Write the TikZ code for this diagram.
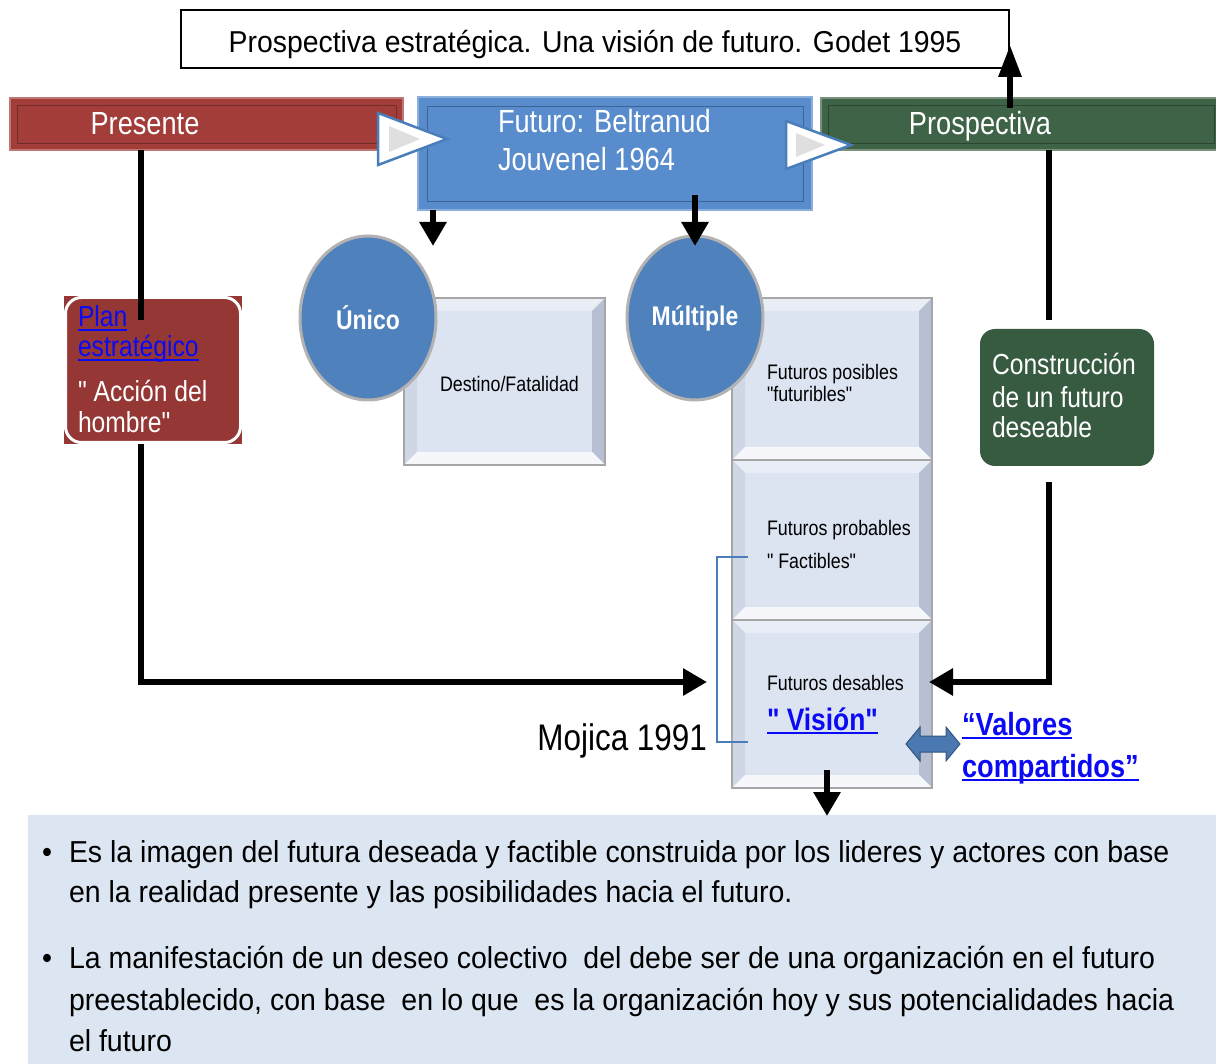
\documentclass[tikz,border=0pt]{standalone}
\usepackage{fontspec}
\setmainfont{Liberation Sans}[FakeStretch=0.85, Ligatures=TeXOff]
\newfontfamily\widerfont{Liberation Sans}[FakeStretch=0.94, Ligatures=TeXOff]
\usetikzlibrary{arrows.meta,shapes.geometric,calc}
\definecolor{redbar}{HTML}{A23D3A}
\definecolor{redplan}{HTML}{953735}
\definecolor{bluebox}{HTML}{588CCC}
\definecolor{blueedge}{HTML}{4A7EBB}
\definecolor{greenbar}{HTML}{3E6347}
\definecolor{greenbox}{HTML}{375B40}
\definecolor{circfill}{HTML}{4F81BD}
\definecolor{panel}{HTML}{DCE6F2}
\definecolor{face}{HTML}{DCE3F1}
\definecolor{bvtop}{HTML}{E9EDF6}
\definecolor{bvleft}{HTML}{CFD6E6}
\definecolor{bvright}{HTML}{B7BFD2}
\definecolor{bvbottom}{HTML}{F5F7FB}
\definecolor{linkblue}{HTML}{0A0AF5}
\definecolor{dblarrow}{HTML}{4A78B0}
\newcommand\dq{\symbol{34}}
\newcommand\ulk[2][0.07em]{\setbox0=\hbox{#2}\rlap{\rule[-0.14em]{\wd0}{#1}}\box0}
\newcommand\bevelfaces[1]{%
 \fill[face] (#1.north west) rectangle (#1.south east);
 \fill[bvtop] (#1.north west) -- (#1.north east) -- ($(#1.north east)+(-13,13)$) -- ($(#1.north west)+(13,13)$) -- cycle;
 \fill[bvleft] (#1.north west) -- ($(#1.north west)+(13,13)$) -- ($(#1.south west)+(13,-13)$) -- (#1.south west) -- cycle;
 \fill[bvright] (#1.north east) -- ($(#1.north east)+(-13,13)$) -- ($(#1.south east)+(-13,-13)$) -- (#1.south east) -- cycle;
 \fill[bvbottom] (#1.south west) -- ($(#1.south west)+(13,-13)$) -- ($(#1.south east)+(-13,-13)$) -- (#1.south east) -- cycle;
 \draw[gray!70, line width=1.5pt] (#1.north west) rectangle (#1.south east);}
\tikzset{
 plainnode/.style={inner sep=0pt, outer sep=0pt},
 bar/.style={plainnode, rectangle, line width=2pt},
 bartext/.style={plainnode, text=white, font=\fontsize{32}{36}\selectfont},
 boxnode/.style={plainnode, rectangle},
 smalltext/.style={plainnode, anchor=base west, font=\fontsize{21}{24}\selectfont},
 circ/.style={plainnode, ellipse, fill=circfill, draw=gray!60, line width=3pt, minimum width=136pt, minimum height=164pt, text=white, font=\bfseries\fontsize{27}{30}\selectfont},
 conn/.style={line width=6pt, draw=black},
 arr/.style={conn, -{Triangle[length=24pt,width=26pt]}},
 chevron/.style={fill=white, draw=blueedge, line width=2.5pt, line join=miter},
 bodytext/.style={plainnode, anchor=base west, font=\widerfont\fontsize{30.3}{36}\selectfont},
 whitetext/.style={plainnode, anchor=base west, text=white, font=\fontsize{29}{33}\selectfont},
}
\begin{document}
\begin{tikzpicture}[x=1pt,y=-1pt]
\useasboundingbox (0,0) rectangle (1216,1064);
% bottom panel
\fill[panel] (28,815) rectangle (1216,1064);
% title
\node[boxnode, draw=black, line width=1.3pt, minimum width=828pt, minimum height=58pt] (title) at (595,39) {};
\node[plainnode, anchor=base, font=\widerfont\fontsize{30.2}{36}\selectfont] (titleT) at (595,53) {Prospectiva estratégica. Una visión de futuro. Godet 1995};
% bars
\node[bar, fill=redbar, draw=redbar!70!white, minimum width=393pt, minimum height=52pt] (presente) at (206.5,124) {};
\node[bar, fill=bluebox, draw=bluebox!70!white, minimum width=394pt, minimum height=113pt] (futuro) at (615,153.5) {};
\node[bar, fill=greenbar, draw=greenbar!70!white, minimum width=400pt, minimum height=52pt] (prosp) at (1021,124) {};
\draw[redbar!70!black, line width=0.8pt] ($(presente.north west)+(7,7)$) rectangle ($(presente.south east)+(-7,-7)$);
\draw[blueedge!80!black, line width=0.8pt] ($(futuro.north west)+(9,9)$) rectangle ($(futuro.south east)+(-9,-9)$);
\draw[greenbar!70!black, line width=0.8pt] ($(prosp.north west)+(7,7)$) rectangle ($(prosp.south east)+(-7,-7)$);
\node[bartext, anchor=base] (presT) at (145,135) {Presente};
\node[bartext, anchor=base west] (futT1) at (498,133) {Futuro: Beltranud};
\node[bartext, anchor=base west] (futT2) at (498,171) {Jouvenel 1964};
\node[bartext, anchor=base] (prospT) at (980,135) {Prospectiva};
% chevrons
\draw[chevron] (378,113) -- (447,139) -- (378,165) -- cycle;
\fill[gray!25] (389,126) -- (420,139) -- (389,152) -- cycle;
\draw[chevron] (786,121) -- (851,145) -- (786,169) -- cycle;
\fill[gray!25] (796,133) -- (825,145) -- (796,157) -- cycle;
% up arrow to title
\coordinate (upS) at (1010,108);
\draw[conn, -{Triangle[length=32pt,width=22pt]}] (upS) -- ($(upS |- title.east)+(0,6)$);
% bevel boxes
\node[boxnode, minimum width=201pt, minimum height=167pt] (destino) at (504.5,381.5) {};
\node[boxnode, minimum width=200pt, minimum height=162pt] (posibles) at (832,379) {};
\node[boxnode, minimum width=200pt, minimum height=160pt] (probables) at (832,540) {};
\node[boxnode, minimum width=200pt, minimum height=168pt] (deseables) at (832,704) {};
\bevelfaces{destino}
\bevelfaces{posibles}
\bevelfaces{probables}
\bevelfaces{deseables}
% circles
\node[circ] (unico) at (368,318) {Único};
\node[circ] (multiple) at (695,318) {Múltiple};
% down arrows from futuro
\coordinate (d1) at (433,246);
\coordinate (d2) at (695,246);
\draw[arr] (futuro.south -| d1) -- (d1);
\draw[arr] ($(futuro.south -| d2)+(0,-15)$) -- (d2);
% box texts
\node[smalltext] (destT) at (440,392) {Destino/Fatalidad};
\node[smalltext] (posT1) at (767,380) {Futuros posibles};
\node[smalltext] (posT2) at (767,402) {\dq futuribles\dq};
\node[smalltext] (probT1) at (767,535) {Futuros probables};
\node[smalltext] (probT2) at (767,568) {\dq\ Factibles\dq};
\node[smalltext] (desT1) at (767,690) {Futuros desables};
\node[plainnode, anchor=base west, text=linkblue, font=\bfseries\fontsize{31}{36}\selectfont] (vision) at (767,730) {\ulk[0.09em]{\dq\ Visión\dq}};
% bracket
\coordinate (brA) at (748,557);
\coordinate (brB) at (717,557);
\coordinate (brC) at (717,742);
\coordinate (brD) at (748,742);
\draw[blueedge, line width=1.6pt] (brA) -- (brB) -- (brC) -- (brD);
\node[plainnode, anchor=base east, font=\fontsize{37}{40}\selectfont] (mojica) at (707,750) {Mojica 1991};
% plan box
\node[boxnode, fill=redplan, minimum width=178pt, minimum height=148pt] (plan) at (153,370) {};
\draw[white, line width=3pt, rounded corners=16pt] ($(plan.north west)+(1.5,1.5)$) rectangle ($(plan.south east)+(-1.5,-1.5)$);
% construccion box
\node[boxnode, fill=greenbox, rounded corners=15pt, minimum width=174pt, minimum height=137pt] (constr) at (1067,397.5) {};
% left connector
\coordinate (pA) at (141,320);
\coordinate (pB) at (141,682);
\coordinate (pT) at (707,682);
\draw[conn] (presente.south -| pA) -- (pA);
\draw[arr] (plan.south -| pB) -- (pB) -- (pT);
% right connector
\coordinate (qA) at (1049,320);
\coordinate (qS) at (1049,482);
\coordinate (qB) at (1049,682);
\coordinate (qT) at (929,682);
\draw[conn] (prosp.south -| qA) -- (qA);
\draw[arr] (qS) -- (qB) -- (qT);
% plan texts
\node[plainnode, anchor=base west, text=linkblue, font=\fontsize{29}{33}\selectfont] (planT1) at (78,327) {\ulk{Plan}};
\node[plainnode, anchor=base west, text=linkblue, font=\fontsize{29}{33}\selectfont] (planT2) at (78,357) {\ulk{estratégico}};
\node[whitetext] (planT3) at (78,402) {\dq\ Acción del};
\node[whitetext] (planT4) at (78,433) {hombre\dq};
% construccion texts
\node[whitetext] (conT1) at (992,375) {Construcción};
\node[whitetext] (conT2) at (992,408) {de un futuro};
\node[whitetext] (conT3) at (992,438) {deseable};
% double arrow
\filldraw[fill=dblarrow, draw=dblarrow!70!black, line width=1pt] (906,744) -- (920,727) -- (920,736) -- (946,736) -- (946,727) -- (960,744) -- (946,761) -- (946,752) -- (920,752) -- (920,761) -- cycle;
\node[plainnode, anchor=base west, text=linkblue, font=\bfseries\fontsize{32}{36}\selectfont] (valT1) at (962,735) {\ulk[0.09em]{“Valores}};
\node[plainnode, anchor=base west, text=linkblue, font=\bfseries\fontsize{32}{36}\selectfont] (valT2) at (962,777) {\ulk[0.09em]{compartidos”}};
% down arrow to panel
\coordinate (vS) at (827,770);
\coordinate (vT) at (827,816);
\draw[arr] (vS) -- (vT);
% bullets
\node[bodytext] (bul1) at (42,862) {•};
\node[bodytext] (l1) at (69,862) {Es la imagen del futura deseada y factible construida por los lideres y actores con base};
\node[bodytext] (l2) at (69,902) {en la realidad presente y las posibilidades hacia el futuro.};
\node[bodytext] (bul2) at (42,968) {•};
\node[bodytext] (l3) at (69,968) {La manifestación de un deseo colectivo\ \ del debe ser de una organización en el futuro};
\node[bodytext] (l4) at (69,1010) {preestablecido, con base\ \ en lo que\ \ es la organización hoy y sus potencialidades\ hacia};
\node[bodytext] (l5) at (69,1051) {el futuro};
\end{tikzpicture}
\end{document}
